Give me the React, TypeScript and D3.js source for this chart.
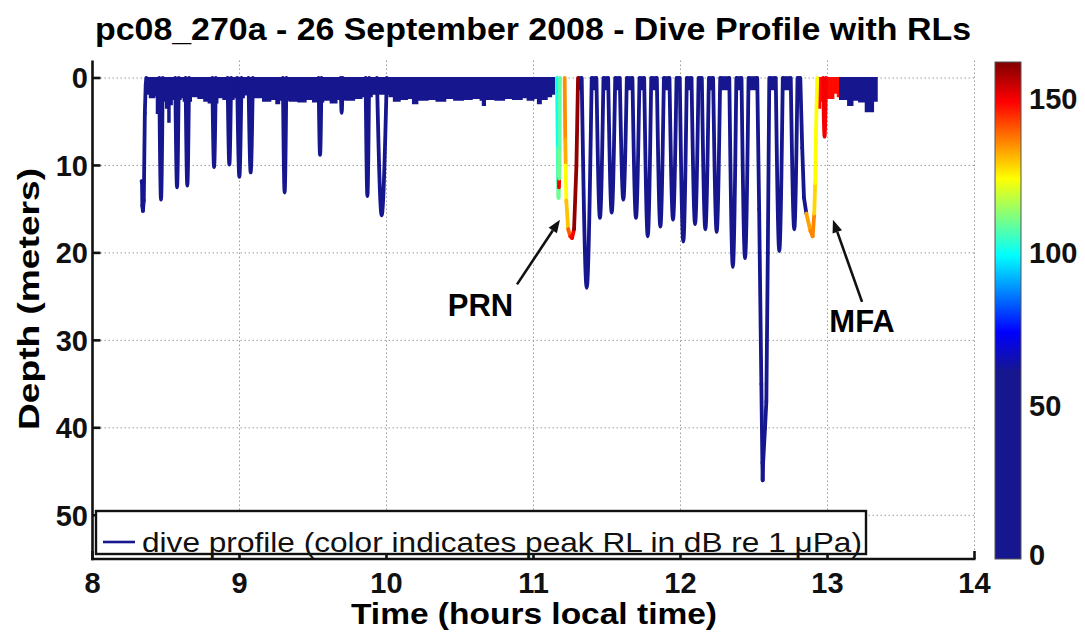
import * as d3 from "d3";

const FONT = "'Liberation Sans', Arial, Helvetica, sans-serif";

const xTicks = [8, 9, 10, 11, 12, 13, 14];
const yTicks = [0, 10, 20, 30, 40, 50];
const cbTicks = [0, 50, 100, 150];

// colour map of peak RL (dB): flat navy below ~60 dB, jet above
const rlStops = [0, 61, 74, 99, 124, 149, 162];
const rlColors = ["#16168f", "#16168f", "#0000ff", "#00ffff", "#ffff00", "#ff0000", "#800000"];

// near-surface activity drawn as a band: [hour, lower edge depth]
const surfaceBand: [number, number][] = [
  [8.366, 1.8], [8.39, 2.2], [8.42, 2.0], [8.437, 4.0], [8.443, 2.4], [8.48, 2.6], [8.5, 3.4],
  [8.515, 5.0], [8.525, 3.0], [8.54, 2.4], [8.6, 2.2], [8.62, 2.6], [8.67, 2.1], [8.72, 2.3],
  [8.76, 2.6], [8.79, 2.8], [8.85, 2.2], [8.89, 2.4], [8.96, 2.2], [9.03, 1.9], [9.1, 2.2],
  [9.16, 2.6], [9.21, 2.4], [9.25, 2.9], [9.27, 2.5], [9.34, 2.6], [9.4, 2.7], [9.45, 2.4],
  [9.5, 2.7], [9.57, 2.5], [9.62, 2.8], [9.66, 2.4], [9.72, 2.5], [9.78, 2.3], [9.83, 2.1],
  [9.9, 1.8], [10.02, 2.1], [10.05, 2.6], [10.09, 2.4], [10.14, 2.3], [10.18, 2.9], [10.21, 2.5],
  [10.28, 2.4], [10.34, 2.6], [10.4, 2.3], [10.46, 2.5], [10.52, 2.4], [10.58, 2.3], [10.64, 2.5],
  [10.655, 3.1], [10.67, 2.4], [10.74, 2.5], [10.8, 2.3], [10.86, 2.4], [10.92, 2.2], [10.96, 2.5],
  [11.0, 2.3], [11.03, 2.9], [11.05, 2.4], [11.09, 2.1], [11.12, 1.8], [11.14, 0],
];
const mfaBand: [number, number][] = [
  [12.932, 3.4], [12.95, 2.6], [12.965, 2.0], [13.0, 2.3], [13.04, 1.7], [13.07, 2.1], [13.085, 0],
];
const lateBand: [number, number][] = [
  [13.085, 2.4], [13.14, 3.1], [13.17, 2.5], [13.215, 2.7], [13.26, 3.8], [13.31, 2.6], [13.335, 0],
];
const bandRL = [10, 148, 10];

// short surface stays between the deep dives: [from, to, depth]
const surfaceBlocks: [number, number, number][] = [
  [11.303, 11.328, 1.4], [11.396, 11.43, 1.4], [11.474, 11.51, 1.4], [11.554, 11.589, 1.4],
  [11.633, 11.675, 1.4], [11.719, 11.755, 1.4], [11.799, 11.841, 1.4], [11.885, 11.927, 1.4],
  [11.971, 11.997, 1.4], [12.041, 12.077, 1.4], [12.121, 12.147, 1.4], [12.191, 12.224, 1.4],
  [12.268, 12.334, 1.4], [12.378, 12.417, 1.4], [12.461, 12.522, 1.4], [12.604, 12.65, 1.4],
  [12.694, 12.75, 1.4], [12.794, 12.815, 1.4],
];

// single-colour dives: [start, bottom time, max depth, end, peak RL]
const dives: [number, number, number, number, number][] = [
  [8.454, 8.466, 13.9, 8.478, 10],
  [8.563, 8.575, 12.5, 8.587, 10],
  [8.633, 8.645, 12.3, 8.657, 10],
  [8.815, 8.827, 10.2, 8.839, 10],
  [8.919, 8.931, 9.9, 8.943, 10],
  [8.984, 8.999, 11.3, 9.014, 10],
  [9.061, 9.076, 10.8, 9.091, 10],
  [9.295, 9.307, 13.1, 9.319, 10],
  [9.538, 9.548, 8.8, 9.558, 10],
  [9.688, 9.695, 4.0, 9.702, 10],
  [9.858, 9.87, 13.5, 9.882, 10],
  [9.935, 9.967, 15.7, 10.002, 10],
  [11.328, 11.362, 24.0, 11.396, 10],
  [11.428, 11.452, 16.0, 11.476, 10],
  [11.508, 11.532, 15.4, 11.556, 10],
  [11.587, 11.611, 13.9, 11.635, 10],
  [11.673, 11.697, 16.0, 11.721, 10],
  [11.753, 11.777, 18.1, 11.801, 10],
  [11.839, 11.863, 17.0, 11.887, 10],
  [11.925, 11.949, 16.2, 11.973, 10],
  [11.995, 12.019, 18.7, 12.043, 10],
  [12.075, 12.099, 16.7, 12.123, 10],
  [12.145, 12.169, 17.3, 12.193, 10],
  [12.222, 12.246, 17.6, 12.27, 10],
  [12.332, 12.356, 21.6, 12.38, 10],
  [12.415, 12.439, 20.6, 12.463, 10],
  [12.648, 12.672, 19.8, 12.696, 10],
  [12.75, 12.774, 17.3, 12.796, 10],
  [12.97, 12.98, 6.7, 12.99, 150],
];

// dives with changing colour or odd shape: [hour, depth, peak RL]
const startTrack: [number, number, number][] = [
  [8.334, 11.8, 10], [8.337, 12.0, 10], [8.339, 14.6, 10], [8.343, 15.2, 10], [8.349, 14.0, 10],
  [8.356, 4.0, 10], [8.362, 0.8, 10], [8.366, 0, 10],
];
const prnTrack: [number, number, number][] = [
  [11.16, 0, 100], [11.165, 8, 106], [11.167, 12, 108], [11.17, 13.7, 110], [11.173, 12.5, 150],
  [11.175, 11.5, 110], [11.177, 8, 108], [11.18, 0, 108],
];
const orangeTrack: [number, number, number][] = [
  [11.212, 0, 135], [11.216, 7, 132], [11.219, 10, 124], [11.223, 14, 130], [11.236, 17.3, 140],
  [11.25, 18.1, 146], [11.262, 18.3, 150], [11.276, 17.3, 160], [11.292, 10, 160], [11.303, 0, 160],
];
const deepTrack: [number, number, number][] = [
  [12.522, 0, 10], [12.535, 15, 10], [12.55, 35, 10], [12.557, 44, 10], [12.559, 46, 10],
  [12.562, 44, 10], [12.575, 40, 10], [12.584, 37, 10], [12.594, 20, 10], [12.604, 0, 10],
];
const mfaTrack: [number, number, number][] = [
  [12.815, 0, 10], [12.828, 8, 10], [12.84, 13.7, 10], [12.856, 15.5, 133], [12.884, 17.5, 136],
  [12.899, 18.1, 136], [12.91, 15.5, 128], [12.916, 12, 124], [12.922, 6, 124], [12.93, 0, 124],
];

// annotation arrows: label, label position, arrow tail, arrow head (hour, depth)
const notes = [
  { label: "PRN", at: [10.639, 25.9], tail: [10.888, 23.6], head: [11.18, 16.2] },
  { label: "MFA", at: [13.235, 27.8], tail: [13.235, 25.6], head: [13.037, 16.2] },
];

const x = d3.scaleLinear().domain([8, 14]).range([92.5, 974.5]);
const y = d3.scaleLinear().domain([-2, 55]).range([60.5, 559]);
const cb = d3.scaleLinear().domain([0, 162]).range([559, 62]);
const rlColor = d3.scaleLinear<string>().domain(rlStops).range(rlColors).clamp(true);

const band = d3
  .area<[number, number]>()
  .x((d) => x(d[0]))
  .y0(y(0))
  .y1((d) => y(d[1]))
  .curve(d3.curveStepAfter);

const diveLine = d3
  .line<[number, number]>()
  .x((d) => x(d[0]))
  .y((d) => y(d[1]))
  .curve(d3.curveMonotoneX);

function Track({ pts }: { pts: [number, number, number][] }) {
  return (
    <g>
      {pts.slice(1).map((p, i) => {
        const q = pts[i];
        return (
          <line
            key={i}
            x1={x(q[0])}
            y1={y(q[1])}
            x2={x(p[0])}
            y2={y(p[1])}
            stroke={rlColor(q[2])}
            strokeWidth={3.8}
            strokeLinecap="round"
          />
        );
      })}
    </g>
  );
}

export default function App() {
  const [x0, x1] = x.range();
  const [yTop, yBot] = [y(-2), y(55)];
  const cbX = 995;
  const cbW = 26;

  return (
    <svg
      width={1085}
      height={633}
      viewBox="0 0 1085 633"
      style={{ position: "absolute", left: 0, top: 0, background: "#fff" }}
      fontFamily={FONT}
    >
      <defs>
        <linearGradient id="jet" x1="0" y1="1" x2="0" y2="0">
          {rlStops.map((v, i) => (
            <stop key={i} offset={v / 162} stopColor={rlColors[i]} />
          ))}
        </linearGradient>
        <clipPath id="plot">
          <rect x={x0} y={yTop} width={x1 - x0} height={yBot - yTop} />
        </clipPath>
      </defs>

      {/* title */}
      <text x={533} y={40} textAnchor="middle" fontSize={31} fontWeight="bold" textLength={876} lengthAdjust="spacingAndGlyphs">
        pc08_270a - 26 September 2008 - Dive Profile with RLs
      </text>

      {/* grid */}
      <g stroke="#9c9c9c" strokeWidth={1} strokeDasharray="1.5 2.5">
        {xTicks.slice(1).map((t) => (
          <line key={t} x1={x(t)} x2={x(t)} y1={yTop} y2={yBot} />
        ))}
        {yTicks.map((d) => (
          <line key={d} x1={x0} x2={x1} y1={y(d)} y2={y(d)} />
        ))}
      </g>

      <g clipPath="url(#plot)">
        {[surfaceBand, mfaBand, lateBand].map((b, i) => (
          <path key={i} d={band(b) ?? ""} fill={rlColor(bandRL[i])} stroke={rlColor(bandRL[i])} strokeWidth={2} />
        ))}
        {surfaceBlocks.map(([a, b, d], i) => (
          <rect key={i} x={x(a)} y={y(0) - 1.8} width={x(b) - x(a)} height={y(d) - y(0) + 1.8} fill={rlColor(10)} />
        ))}
        {dives.map(([s, b, dep, e, rl], i) => (
          <path
            key={i}
            d={diveLine([[s, 0], [b, dep], [e, 0]]) ?? ""}
            fill="none"
            stroke={rlColor(rl)}
            strokeWidth={3.8}
            strokeLinecap="round"
          />
        ))}
        <Track pts={startTrack} />
        <Track pts={prnTrack} />
        <Track pts={orangeTrack} />
        <Track pts={deepTrack} />
        <Track pts={mfaTrack} />
      </g>

      {/* annotations */}
      {notes.map((n) => {
        const tx = x(n.tail[0]);
        const ty = y(n.tail[1]);
        const hx = x(n.head[0]);
        const hy = y(n.head[1]);
        const ang = Math.atan2(hy - ty, hx - tx);
        const L = 13;
        const Wd = 5;
        const bx = hx - L * Math.cos(ang);
        const by = hy - L * Math.sin(ang);
        const px = -Math.sin(ang) * Wd;
        const py = Math.cos(ang) * Wd;
        return (
          <g key={n.label}>
            <line x1={tx} y1={ty} x2={bx} y2={by} stroke="#111" strokeWidth={2.6} />
            <polygon points={`${hx},${hy} ${bx + px},${by + py} ${bx - px},${by - py}`} fill="#111" />
            <text x={x(n.at[0])} y={y(n.at[1]) + 11} textAnchor="middle" fontSize={31} fontWeight="bold">
              {n.label}
            </text>
          </g>
        );
      })}

      {/* axes */}
      <g stroke="#111" strokeWidth={2.6} fill="none">
        <line x1={x0} x2={x0} y1={yTop} y2={yBot + 1.3} />
        <line x1={x0 - 1.3} x2={x1 + 1} y1={yBot} y2={yBot} />
        {yTicks.map((d) => (
          <line key={d} x1={x0} x2={x0 + 8} y1={y(d)} y2={y(d)} />
        ))}
        {xTicks.map((t) => (
          <line key={t} x1={x(t)} x2={x(t)} y1={yBot} y2={yBot - 8} />
        ))}
      </g>
      <g fontSize={29} fontWeight="bold" fill="#111">
        {yTicks.map((d) => (
          <text key={d} x={88} y={y(d) + 10.5} textAnchor="end">
            {d}
          </text>
        ))}
        {xTicks.map((t) => (
          <text key={t} x={x(t)} y={593} textAnchor="middle">
            {t}
          </text>
        ))}
      </g>
      <text x={534} y={624} textAnchor="middle" fontSize={29} fontWeight="bold" textLength={366} lengthAdjust="spacingAndGlyphs">
        Time (hours local time)
      </text>
      <text
        transform="translate(39,299) rotate(-90)"
        textAnchor="middle"
        fontSize={30}
        fontWeight="bold"
        textLength={262}
        lengthAdjust="spacingAndGlyphs"
      >
        Depth (meters)
      </text>

      {/* legend */}
      <rect x={96} y={511} width={770} height={43} fill="#fff" stroke="#111" strokeWidth={2.4} />
      <line x1={103} x2={135} y1={542} y2={542} stroke={rlColor(10)} strokeWidth={2.6} />
      <text x={142} y={552} fontSize={28} textLength={720} lengthAdjust="spacingAndGlyphs" fill="#111">
        dive profile (color indicates peak RL in dB re 1 μPa)
      </text>

      {/* colour bar */}
      <rect x={cbX} y={cb(162)} width={cbW} height={cb(0) - cb(162)} fill="url(#jet)" stroke="#555" strokeWidth={1} />
      <g fontSize={29} fontWeight="bold" fill="#111">
        {cbTicks.map((v) => (
          <text key={v} x={1029} y={cb(v) + (v === 0 ? 6 : 10.5)}>
            {v}
          </text>
        ))}
      </g>
    </svg>
  );
}
